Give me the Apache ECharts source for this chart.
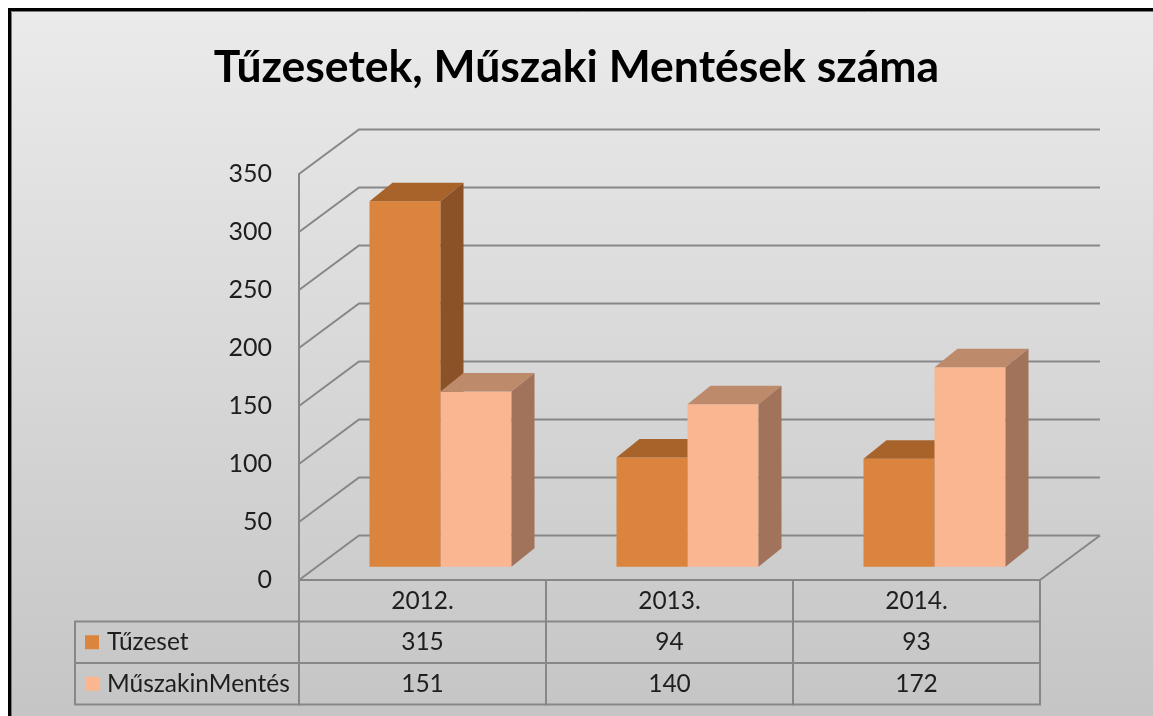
<!DOCTYPE html>
<html lang="hu">
<head>
<meta charset="UTF-8">
<title>Tűzesetek, Műszaki Mentések száma</title>
<style>
    html, body { margin: 0; padding: 0; background: #fff; }
    #main { width: 1153px; height: 716px; }
</style>
</head>
<body>
<div id="main"></div>

<script src="https://cdn.jsdelivr.net/npm/echarts@6/dist/echarts.min.js"></script>
<script type="text/javascript">
    // adatok
    var years = ['2012.', '2013.', '2014.'];
    var seriesNames = ['Tűzeset', 'MűszakinMentés'];
    var tuzeset = [315, 94, 93];
    var muszaki = [151, 140, 172];
    var yTicks = [0, 50, 100, 150, 200, 250, 300, 350];

    // 3D look
    var frontColors = ['#db843d', '#f9b691'];
    var topColors = ['#a8632b', '#be8a6c'];
    var sideColors = ['#8b5227', '#a0735a'];
    var DEPTH_X = 60, DEPTH_Y = -44.5;   // floor depth
    var BAR_FROM = 0.3;                  // bars start this far back
    var BAR_DX = 23, BAR_DY = -18.5;     // bar thickness
    var ROW_H = 41.5;                    // data table rows
    var LEGEND_W = 224;
    var LINE = '#878787';
    var FONT = 'Lato';

    function renderWall(params, api) {
        var v = api.value(1);
        var p = api.coord([0, v]);
        var bw = api.size([1, 0])[0];
        var left = p[0] - bw / 2;
        var right = left + bw * years.length;
        var y = p[1];
        var children = [{
            type: 'polyline',
            shape: {points: [[left, y], [left + DEPTH_X, y + DEPTH_Y], [right + DEPTH_X, y + DEPTH_Y]]},
            style: {stroke: LINE, lineWidth: 2, fill: null}
        }];
        if (v === 0) {   // floor right edge
            children.push({
                type: 'line',
                shape: {x1: right, y1: y, x2: right + DEPTH_X, y2: y + DEPTH_Y},
                style: {stroke: LINE, lineWidth: 2}
            });
        }
        return {type: 'group', children: children};
    }

    function barRenderer(k) {
        return function (params, api) {
            var cat = api.value(0), val = api.value(1);
            var base = api.coord([cat, 0]);
            var top = api.coord([cat, val]);
            var bw = api.size([1, 0])[0];
            var w = bw * 0.2875;
            var x = base[0] + DEPTH_X * BAR_FROM + (k - 1) * w;
            var yb = base[1] + DEPTH_Y * BAR_FROM;
            var yt = top[1] + DEPTH_Y * BAR_FROM;
            return {
                type: 'group',
                children: [{
                    type: 'rect',
                    shape: {x: x, y: yt, width: w, height: yb - yt},
                    style: {fill: frontColors[k], stroke: null}
                }, {
                    type: 'polygon',
                    shape: {points: [[x, yt], [x + w, yt], [x + w + BAR_DX, yt + BAR_DY], [x + BAR_DX, yt + BAR_DY]]},
                    style: {fill: topColors[k]}
                }, {
                    type: 'polygon',
                    shape: {points: [[x + w, yt], [x + w + BAR_DX, yt + BAR_DY], [x + w + BAR_DX, yb + BAR_DY], [x + w, yb]]},
                    style: {fill: sideColors[k]}
                }]
            };
        };
    }

    function cellText(text, x, y, align) {
        return {
            type: 'text',
            x: x, y: y,
            style: {
                text: String(text), fill: '#1e1e1e', fontSize: 24.5, fontFamily: FONT,
                align: align || 'center', verticalAlign: 'middle'
            }
        };
    }

    function renderTable(params, api) {
        var i = api.value(0);
        var p = api.coord([i, 0]);
        var bw = api.size([1, 0])[0];
        var left = p[0] - bw / 2, top = p[1];
        var rows = [years[i], tuzeset[i], muszaki[i]];
        var ch = [{
            type: 'rect',
            shape: {x: left, y: top, width: bw, height: ROW_H * 3},
            style: {fill: null, stroke: LINE, lineWidth: 2}
        }];
        for (var r = 0; r < 3; r++) {
            if (r > 0) {
                ch.push({type: 'line', shape: {x1: left, y1: top + ROW_H * r, x2: left + bw, y2: top + ROW_H * r},
                    style: {stroke: LINE, lineWidth: 2}});
            }
            ch.push(cellText(rows[r], p[0], top + ROW_H * (r + 0.5)));
        }
        if (i === 0) {   // legend column
            var lx = left - LEGEND_W;
            ch.push({
                type: 'rect',
                shape: {x: lx, y: top + ROW_H, width: LEGEND_W, height: ROW_H * 2},
                style: {fill: null, stroke: LINE, lineWidth: 2}
            });
            ch.push({type: 'line', shape: {x1: lx, y1: top + ROW_H * 2, x2: left, y2: top + ROW_H * 2},
                style: {stroke: LINE, lineWidth: 2}});
            for (var s = 0; s < 2; s++) {
                var cy = top + ROW_H * (s + 1.5);
                ch.push({type: 'rect', shape: {x: lx + 10, y: cy - 7, width: 14, height: 14},
                    style: {fill: frontColors[s]}});
                ch.push(cellText(seriesNames[s], lx + 32, cy, 'left'));
            }
        }
        return {type: 'group', children: ch};
    }

    var myChart = echarts.init(document.getElementById('main'));
    var option = {
        animation: false,
        graphic: [{
            type: 'rect', z: -10,
            shape: {x: 9.5, y: 9.5, width: 1200, height: 800},
            style: {
                fill: new echarts.graphic.LinearGradient(0, 0, 0, 1, [
                    {offset: 0, color: '#ebebeb'},
                    {offset: 1, color: '#c0c0c0'}
                ]),
                stroke: '#000', lineWidth: 3
            }
        }, {
            type: 'rect', z: -9,
            shape: {x: 11.5, y: 11.5, width: 1200, height: 800},
            style: {fill: null, stroke: '#7a7a7a', lineWidth: 1}
        }],
        title: {
            text: 'Tűzesetek, Műszaki Mentések száma',
            left: 'center',
            top: 40,
            textStyle: {fontSize: 44.5, fontWeight: 'bold', color: '#000', fontFamily: FONT}
        },
        grid: {left: 299, right: 113, top: 174, bottom: 136, containLabel: false},
        xAxis: {
            type: 'category',
            data: years,
            axisLine: {show: false},
            axisTick: {show: false},
            axisLabel: {show: false},
            splitLine: {show: false}
        },
        yAxis: {
            type: 'value',
            min: 0,
            max: 350,
            interval: 50,
            axisLine: {show: true, lineStyle: {color: LINE, width: 2}},
            axisTick: {show: false},
            splitLine: {show: false},
            axisLabel: {fontSize: 25, color: '#1e1e1e', margin: 27, fontFamily: FONT}
        },
        series: [{
            type: 'custom',
            name: 'walls',
            renderItem: renderWall,
            data: yTicks.map(function (v) { return [0, v]; }),
            z: 1
        }, {
            type: 'custom',
            name: seriesNames[0],
            renderItem: barRenderer(0),
            data: tuzeset.map(function (v, i) { return [i, v]; }),
            z: 2
        }, {
            type: 'custom',
            name: seriesNames[1],
            renderItem: barRenderer(1),
            data: muszaki.map(function (v, i) { return [i, v]; }),
            z: 3
        }, {
            type: 'custom',
            name: 'table',
            renderItem: renderTable,
            data: years.map(function (y, i) { return [i, 0]; }),
            z: 4
        }]
    };
    myChart.setOption(option);
</script>
</body>
</html>
